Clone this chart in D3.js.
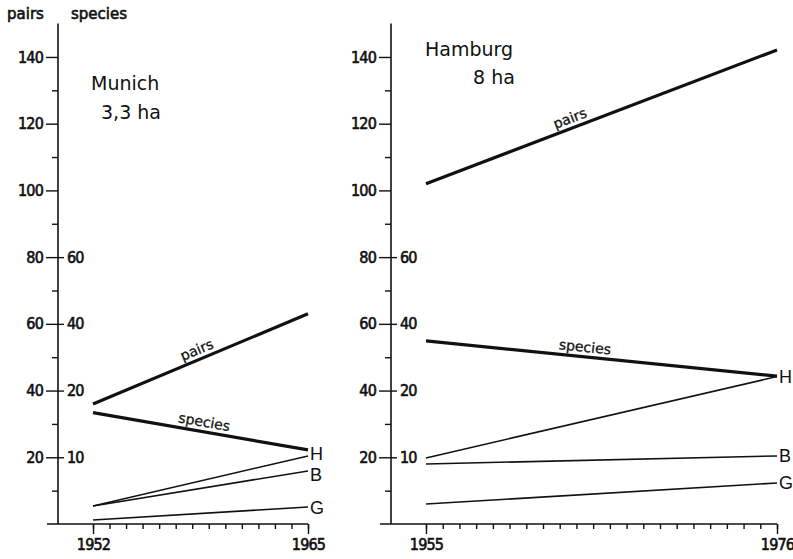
<!DOCTYPE html>
<html>
<head>
<meta charset="utf-8">
<style>
  body { margin: 0; background: #fff; }
  svg text { fill: #111; }
</style>
<title>Munich and Hamburg: breeding pairs and species</title>
</head>
<body>
<svg id="chart"></svg>
<script src="https://cdn.jsdelivr.net/npm/d3@7"></script>
<script>

/*========== Data ==========*/

var pairTicks = [20, 40, 60, 80, 100, 120, 140];
var pairMinorTicks = [10, 30, 50, 70, 90, 110, 130];
var speciesTicks = [10, 20, 40, 60];
// species axis is not linear: each species tick sits on a pairs tick
var speciesBreaks = [0, 10, 20, 40, 60];
var speciesAtPairs = [0, 20, 40, 60, 80];

var munichYears = [1952, 1965];
var munichPairs = [36, 63];
var munichSpecies = [16.7, 11.1];
var munichH = [5.4, 20.4];
var munichB = [5.4, 15.9];
var munichG = [1.2, 5.1];

var hamburgYears = [1955, 1976];
var hamburgPairs = [102, 142.1];
var hamburgSpecies = [34.9, 24.3];
var hamburgH = [19.8, 44.2];
var hamburgB = [18, 20.4];
var hamburgG = [6, 12.3];

var letters = ['H', 'B', 'G'];

/*========== Layout ==========*/

var W = 793, H = 559;
var FONT = '"DejaVu Sans", sans-serif';
var NUMFONT = '"DejaVu Sans Condensed", "DejaVu Sans", sans-serif';

var y = d3.scaleLinear().domain([0, 150]).range([524, 23.6]);
var ySpecies = d3.scaleLinear()
    .domain(speciesBreaks)
    .range(speciesAtPairs.map(function(p) { return y(p); }));

var panels = [
  { title: 'Munich', area: '3,3 ha', titleX: 91, titleY: 90, areaX: 101, areaY: 119,
    axisX: 58, baseStart: 47, range: [93, 308],
    years: munichYears, pairs: munichPairs, species: munichSpecies,
    thin: [munichH, munichB, munichG], letterShift: [-2, 4, 1],
    pairsT: 0.5, speciesT: 0.51 },
  { title: 'Hamburg', area: '8 ha', titleX: 425, titleY: 56, areaX: 473, areaY: 84,
    axisX: 391, baseStart: 380, range: [426, 777],
    years: hamburgYears, pairs: hamburgPairs, species: hamburgSpecies,
    thin: [hamburgH, hamburgB, hamburgG], letterShift: [0, 0, 0],
    pairsT: 0.42, speciesT: 0.45 }
];

var svg = d3.select('#chart')
    .attr('width', W)
    .attr('height', H)
    .style('display', 'block');

// slightly heavier text, like the printed figure
function heavy(sel, w) {
    sel.attr('stroke', '#111').attr('stroke-width', w);
}

// header labels of the two left axes
svg.append('text').text('pairs')
    .attr('x', 7).attr('y', 19)
    .style('font-family', FONT).style('font-size', '15px')
    .call(heavy, 0.6);
svg.append('text').text('species')
    .attr('x', 71).attr('y', 19)
    .style('font-family', FONT).style('font-size', '15px')
    .call(heavy, 0.6);

// label written along a line, a little above it
function alongLabel(g, text, p0, p1, t, off) {
    var dx = p1[0] - p0[0], dy = p1[1] - p0[1];
    var len = Math.sqrt(dx * dx + dy * dy);
    var nx = dy / len, ny = -dx / len;
    var cx = p0[0] + t * dx + nx * off;
    var cy = p0[1] + t * dy + ny * off;
    var angle = Math.atan2(dy, dx) * 180 / Math.PI;
    g.append('text')
        .text(text)
        .attr('text-anchor', 'middle')
        .attr('transform', `translate(${cx},${cy}) rotate(${angle})`)
        .style('font-family', FONT)
        .style('font-size', '14px')
        .call(heavy, 0.3);
}

panels.forEach(function(p) {
    var g = svg.append('g');
    var x = d3.scaleLinear().domain(p.years).range(p.range);

    // ---- y axis ----
    var ya = g.append('g')
        .attr('transform', `translate(${p.axisX},0)`);
    ya.append('line')
        .attr('y1', y(0)).attr('y2', y(150))
        .attr('stroke', '#111').attr('stroke-width', 1.6);
    ya.append('g')
        .call(d3.axisLeft(y).tickValues(pairTicks).tickSize(12).tickPadding(3))
        .call(function(s) { s.select('.domain').remove(); });
    ya.append('g')
        .call(d3.axisLeft(y).tickValues(pairMinorTicks).tickSize(6).tickFormat(''))
        .call(function(s) { s.select('.domain').remove(); });
    ya.append('g')
        .call(d3.axisRight(ySpecies).tickValues(speciesTicks).tickSize(6).tickPadding(3))
        .call(function(s) { s.select('.domain').remove(); });
    ya.selectAll('text').attr('fill', '#111')
        .style('font-family', NUMFONT).style('font-size', '16px').style('letter-spacing', '-0.8px')
        .call(heavy, 0.6);
    ya.selectAll('.tick line').attr('stroke', '#111').attr('stroke-width', 1.4);

    // ---- x axis ----
    var xa = g.append('g')
        .attr('transform', `translate(0,${y(0)})`);
    xa.append('line')
        .attr('x1', p.baseStart).attr('x2', p.range[1])
        .attr('stroke', '#111').attr('stroke-width', 1.6);
    xa.append('g')
        .call(d3.axisBottom(x).tickValues(d3.range(p.years[0], p.years[1] + 1)).tickSize(5).tickFormat(''))
        .call(function(s) { s.select('.domain').remove(); });
    xa.append('g')
        .call(d3.axisBottom(x).tickValues(p.years).tickSize(10).tickPadding(5).tickFormat(d3.format('d')))
        .call(function(s) { s.select('.domain').remove(); });
    xa.selectAll('text').attr('fill', '#111')
        .style('font-family', NUMFONT).style('font-size', '16px').style('letter-spacing', '-0.8px')
        .call(heavy, 0.6);
    xa.selectAll('.tick line').attr('stroke', '#111').attr('stroke-width', 1.4);

    // ---- title ----
    g.append('text').text(p.title)
        .attr('x', p.titleX).attr('y', p.titleY)
        .style('font-family', FONT).style('font-size', '19px');
    g.append('text').text(p.area)
        .attr('x', p.areaX).attr('y', p.areaY)
        .style('font-family', FONT).style('font-size', '19px');

    // ---- lines ----
    var pairsPts = p.years.map(function(yr, i) { return [x(yr), y(p.pairs[i])]; });
    var speciesPts = p.years.map(function(yr, i) { return [x(yr), ySpecies(p.species[i])]; });
    var line = d3.line();

    g.append('path').attr('d', line(pairsPts))
        .attr('fill', 'none').attr('stroke', '#111').attr('stroke-width', 3.2);
    g.append('path').attr('d', line(speciesPts))
        .attr('fill', 'none').attr('stroke', '#111').attr('stroke-width', 3.2);
    alongLabel(g, 'pairs', pairsPts[0], pairsPts[1], p.pairsT, 5);
    alongLabel(g, 'species', speciesPts[0], speciesPts[1], p.speciesT, 5);

    p.thin.forEach(function(vals, k) {
        var pts = p.years.map(function(yr, i) { return [x(yr), y(vals[i])]; });
        g.append('path').attr('d', line(pts))
            .attr('fill', 'none').attr('stroke', '#111').attr('stroke-width', 1.6);
        g.append('text').text(letters[k])
            .attr('x', pts[1][0] + 2)
            .attr('y', pts[1][1] + p.letterShift[k])
            .attr('dy', '0.36em')
            .style('font-family', '"Liberation Sans", sans-serif')
            .style('font-size', '18px');
    });
});

</script>
</body>
</html>
